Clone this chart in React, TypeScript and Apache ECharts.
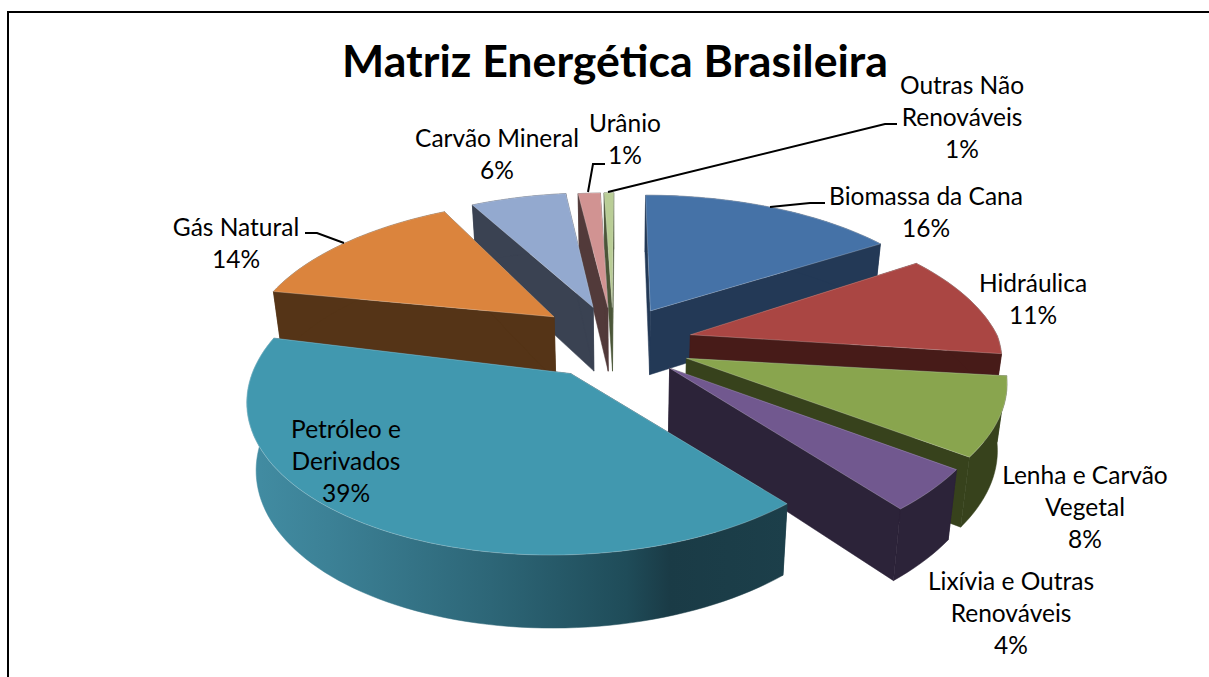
import React, { useEffect, useRef } from "react";
import * as echarts from "echarts";

const categories = ["Biomassa da Cana", "Hidráulica", "Lenha e Carvão Vegetal", "Lixívia e Outras Renováveis", "Petróleo e Derivados", "Gás Natural", "Carvão Mineral", "Urânio", "Outras Não Renováveis"];
const values = [16, 11, 8, 4, 39, 14, 6, 1.4, 0.6];
const labelLines = [["Biomassa da Cana", "16%"], ["Hidráulica", "11%"], ["Lenha e Carvão", "Vegetal", "8%"], ["Lixívia e Outras", "Renováveis", "4%"], ["Petróleo e", "Derivados", "39%"], ["Gás Natural", "14%"], ["Carvão Mineral", "6%"], ["Urânio", "1%"], ["Outras Não", "Renováveis", "1%"]];
const topColors = ["#4572a7", "#aa4643", "#89a54e", "#71588f", "#4198af", "#db843d", "#93a9cf", "#d19392", "#b9cd96"];
const wallColors = ["#233956", "#471b18", "#37421c", "#2c2339", "#1b3d48", "#553417", "#3a4252", "#523a3a", "#4b5638"];
// painter's order, back to front
const drawOrder = [0, 8, 7, 6, 5, 1, 2, 3, 4];
const labelCenters = [[926, 195], [1033, 282], [1085, 474], [1011, 580], [346, 428], [236, 226], [497, 137], [625, 122], [962, 84]];
const leaders = [
  [[825, 203], [810, 203], [770, 207]],
  null, null, null, null,
  [[305, 233], [317, 233], [344, 243]],
  null,
  [[605, 164], [593, 164], [588, 192]],
  [[897, 124], [885, 124], [608, 192]],
];
// per-slice tweaks of the exploded position (world units), rim radius and apex (px)
const nudgeX = [0, 0, 0, -0.004, -0.07, -0.03, -0.03, -0.027, -0.025];
const nudgeY = [0, -0.035, -0.06, -0.04, -0.02, 0.015, 0.01, 0, 0];
const radiusX = [1, 1, 1, 1, 0.944, 1, 1, 1, 1];
const radiusY = [1, 1, 0.97, 1, 0.95, 1, 1, 1, 1];
const shearOn = [1, 1, 1, 1, 0, 1, 1, 1, 1];
const apexDx = [0, 8, 8, 6, 6, -8, 0, 0, 0];
const apexDy = [0, 0, 2, 5, 8, 0, 0, 0, 0];

const CX = 621, CY = 336, SX = 315, SY = 148, P = 0.2, EXPLODE = 0.2, SHEAR = 20;
const FONT = "Lato";
const LINE_H = 32;

function project(X: number, Y: number, shear: number) {
  const d = 1 + P * Y;
  return [CX + (SX * X) / d + (shear * SHEAR * Math.min(Y, 0)) / d, CY - (SY * Y) / d];
}
function lower(pt: number[], Y: number) {
  const h = 65 - 7 * Y;
  return [pt[0] + (CX - pt[0]) * 0.025, pt[1] + h];
}

const total = values.reduce((a, b) => a + b, 0);
const cum: number[] = [];
values.reduce((a, b, i) => ((cum[i] = a), a + b), 0);

function renderItem(params: any) {
  const idx = drawOrder[params.dataIndex];
  const a0 = (cum[idx] / total) * 2 * Math.PI;
  const a1 = ((cum[idx] + values[idx]) / total) * 2 * Math.PI;
  const mid = (a0 + a1) / 2;
  const ax = EXPLODE * Math.sin(mid) + nudgeX[idx];
  const ay = EXPLODE * Math.cos(mid) + nudgeY[idx];
  const n = Math.max(3, Math.ceil((a1 - a0) / 0.03));
  const rimW: number[][] = [];
  for (let i = 0; i <= n; i++) {
    const t = a0 + ((a1 - a0) * i) / n;
    rimW.push([ax + radiusX[idx] * Math.sin(t), ay + radiusY[idx] * Math.cos(t)]);
  }
  const rimTop = rimW.map((w) => project(w[0], w[1], shearOn[idx]));
  const rimBot = rimTop.map((p, i) => lower(p, rimW[i][1]));
  const ap = project(ax, ay, shearOn[idx]);
  const apexTop = [ap[0] + apexDx[idx], ap[1] + apexDy[idx]];
  const apexBot = lower(apexTop, ay);
  const wall = wallColors[idx];
  const children: any[] = [];
  const poly = (points: number[][], fill: any) => ({
    type: "polygon",
    shape: { points },
    style: { fill, stroke: fill, lineWidth: 0.5 },
  });
  children.push(poly([apexTop, rimTop[0], rimBot[0], apexBot], wall));
  children.push(poly([apexTop, rimTop[n], rimBot[n], apexBot], wall));
  const outerFill: any =
    idx === 4
      ? new echarts.graphic.LinearGradient(
          247, 0, 789, 0,
          [
            { offset: 0, color: "#428da3" },
            { offset: 0.15, color: "#3c8196" },
            { offset: 0.45, color: "#2d6677" },
            { offset: 0.7, color: "#1f4c59" },
            { offset: 0.78, color: "#1a3b46" },
            { offset: 1, color: "#1c3f4a" },
          ],
          true
        )
      : wall;
  children.push(poly([...rimTop, ...rimBot.slice().reverse()], outerFill));
  children.push({
    type: "polygon",
    shape: { points: [apexTop, ...rimTop] },
    style: { fill: topColors[idx], stroke: "#ffffff", lineWidth: 0.4, strokeOpacity: 0.6 },
  });
  return { type: "group", children };
}

function renderLabel(params: any) {
  const idx = params.dataIndex;
  const [x, y] = labelCenters[idx];
  const children: any[] = labelLines[idx].map((s, i) => ({
    type: "text",
    x,
    y: y + i * LINE_H,
    style: { text: s, fontFamily: FONT, fontSize: 24.5, fill: "#000000", textAlign: "center", textVerticalAlign: "middle" },
  }));
  const l = leaders[idx];
  if (l) {
    children.push({ type: "polyline", shape: { points: l }, style: { stroke: "#000000", lineWidth: 2, fill: "none" } });
  }
  return { type: "group", children };
}

export default function App() {
  const ref = useRef<HTMLDivElement>(null);
  useEffect(() => {
    const chart = echarts.init(ref.current!, undefined, { renderer: "svg" });
    chart.setOption({
      animation: false,
      backgroundColor: "#ffffff",
      title: {
        text: "Matriz Energética Brasileira",
        left: 610,
        top: 32,
        textAlign: "center",
        textStyle: { fontFamily: FONT, fontWeight: "bold", fontSize: 44.7, color: "#000000" },
      },
      graphic: [
        { type: "polyline", shape: { points: [[8, 677], [8, 12], [1209, 12]] }, style: { stroke: "#000000", lineWidth: 2, fill: "none" } },
      ],
      series: [
        { type: "custom", coordinateSystem: "none", renderItem, data: drawOrder.map((i) => values[i]), silent: true, z: 2 },
        { type: "custom", coordinateSystem: "none", renderItem: renderLabel, data: categories.map((c, i) => ({ name: c, value: values[i] })), silent: true, z: 3 },
      ],
    });
    return () => chart.dispose();
  }, []);
  return <div ref={ref} style={{ position: "fixed", left: 0, top: 0, width: 1209, height: 677 }} />;
}
